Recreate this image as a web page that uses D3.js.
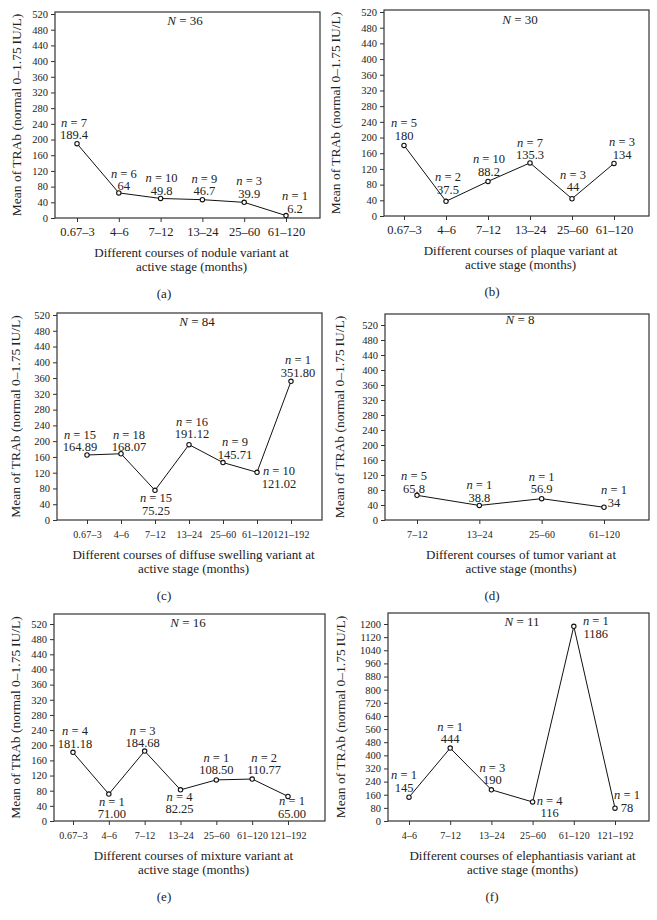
<!DOCTYPE html>
<html lang="en">
<head>
    <meta charset="UTF-8">
    <title>Mean of TRAb by course</title>
    <script src="https://d3js.org/d3.v7.min.js"></script>
    <style>
        body { margin: 0; background: #fff; }
        svg { display: block; font-family: "Liberation Serif", "DejaVu Serif", serif; }
        .box { fill: none; stroke: #333; stroke-width: 1.2; }
        .tick line { stroke: #333; }
        .tick text { fill: #222; font-family: "Liberation Serif", serif; }
        .lbl { fill: #222; font-size: 13px; text-anchor: middle; }
        .ann text { font-size: 12.5px; }
        .ylab { font-size: 13.5px; }
        .line { fill: none; stroke: #111; stroke-width: 1; }
        .dot { fill: #fff; stroke: #111; stroke-width: 1.1; }
    </style>
</head>
<body>
    <svg id="chart" width="657" height="920"></svg>

    <script>
        // Data
        const variants = ["nodule", "plaque", "diffuse swelling", "tumor", "mixture", "elephantiasis"];
        const panelLetters = ["a", "b", "c", "d", "e", "f"];
        const totalN = [36, 30, 84, 8, 16, 11];

        const catsA = ["0.67–3", "4–6", "7–12", "13–24", "25–60", "61–120"];
        const meansA = [189.4, 64, 49.8, 46.7, 39.9, 6.2];
        const countsA = [7, 6, 10, 9, 3, 1];
        const textA = ["189.4", "64", "49.8", "46.7", "39.9", "6.2"];

        const catsB = ["0.67–3", "4–6", "7–12", "13–24", "25–60", "61–120"];
        const meansB = [180, 37.5, 88.2, 135.3, 44, 134];
        const countsB = [5, 2, 10, 7, 3, 3];
        const textB = ["180", "37.5", "88.2", "135.3", "44", "134"];

        const catsC = ["0.67–3", "4–6", "7–12", "13–24", "25–60", "61–120", "121–192"];
        const meansC = [164.89, 168.07, 75.25, 191.12, 145.71, 121.02, 351.80];
        const countsC = [15, 18, 15, 16, 9, 10, 1];
        const textC = ["164.89", "168.07", "75.25", "191.12", "145.71", "121.02", "351.80"];

        const catsD = ["7–12", "13–24", "25–60", "61–120"];
        const meansD = [65.8, 38.8, 56.9, 34];
        const countsD = [5, 1, 1, 1];
        const textD = ["65.8", "38.8", "56.9", "34"];

        const catsE = ["0.67–3", "4–6", "7–12", "13–24", "25–60", "61–120", "121–192"];
        const meansE = [181.18, 71.00, 184.68, 82.25, 108.50, 110.77, 65.00];
        const countsE = [4, 1, 3, 4, 1, 2, 1];
        const textE = ["181.18", "71.00", "184.68", "82.25", "108.50", "110.77", "65.00"];

        const catsF = ["4–6", "7–12", "13–24", "25–60", "61–120", "121–192"];
        const meansF = [145, 444, 190, 116, 1186, 78];
        const countsF = [1, 1, 3, 4, 1, 1];
        const textF = ["145", "444", "190", "116", "1186", "78"];

        const ticks520 = [0, 40, 80, 120, 160, 200, 240, 280, 320, 360, 400, 440, 480, 520];
        const ticks1200 = [0, 80, 160, 240, 320, 400, 480, 560, 640, 720, 800, 880, 960, 1040, 1120, 1200];

        const panelData = [
            { cats: catsA, means: meansA, counts: countsA, text: textA, ticks: ticks520 },
            { cats: catsB, means: meansB, counts: countsB, text: textB, ticks: ticks520 },
            { cats: catsC, means: meansC, counts: countsC, text: textC, ticks: ticks520 },
            { cats: catsD, means: meansD, counts: countsD, text: textD, ticks: ticks520 },
            { cats: catsE, means: meansE, counts: countsE, text: textE, ticks: ticks520 },
            { cats: catsF, means: meansF, counts: countsF, text: textF, ticks: ticks1200 }
        ];

        // Layout (pixels): plot box, first/last category x, top tick y, label offsets
        const layout = [
            { cx: 164, left: 55, right: 320, top: 12, bottom: 218, topTickY: 14, x0: 77, x1: 286,
              big: true, yLabX: 16, nX: 185, nDy: 13,
              off: [[-3, -9], [5, -7], [1, -8], [2, -9], [5, -9], [9, -7]] },
            { cx: 492, left: 384, right: 649, top: 10, bottom: 216, topTickY: 12, x0: 404, x1: 614,
              big: true, yLabX: 335, nX: 520, nDy: 14,
              off: [[0, -10], [2, -12], [1, -10], [0, -8], [1, -12], [8, -9]] },
            { cx: 164, left: 57, right: 322, top: 313, bottom: 520, topTickY: 315, x0: 87, x1: 291,
              big: false, yLabX: 15, nX: 197, nDy: 13,
              off: [[-7, -8], [8, -7], [1, 20], [3, -11], [12, -8], [22, 11], [7, -9]] },
            { cx: 492, left: 385, right: 649, top: 314, bottom: 520, topTickY: 325, x0: 417, x1: 604,
              big: false, yLabX: 339, nX: 520, nDy: 10,
              off: [[-3, -7], [0, -8], [0, -10], [10, -5]] },
            { cx: 164, left: 54, right: 325, top: 614, bottom: 821, topTickY: 624, x0: 73, x1: 288,
              big: false, yLabX: 15, nX: 188, nDy: 13,
              off: [[2, -9], [3, 20], [-2, -8], [-1, 19], [0, -10], [12, -9], [4, 17]] },
            { cx: 492, left: 388, right: 649, top: 613, bottom: 821, topTickY: 624, x0: 409, x1: 615,
              big: false, yLabX: 340, nX: 522, nDy: 13,
              off: [[-5, -10], [0, -9], [1, -10], [17, 11], [22, 7], [12, -1]] }
        ];

        const svg = d3.select("#chart");

        panelData.forEach((d, i) => {
            const L = layout[i];
            const g = svg.append("g");

            const x = d3.scalePoint()
                .domain(d.cats)
                .range([L.x0, L.x1]);

            const y = d3.scaleLinear()
                .domain([0, d.ticks[d.ticks.length - 1]])
                .range([L.bottom, L.topTickY]);

            // y axis
            const yAxis = g.append("g")
                .attr("transform", `translate(${L.left},0)`)
                .call(d3.axisLeft(y).tickValues(d.ticks).tickFormat(d3.format("d")).tickSize(4).tickPadding(3))
                .attr("font-family", null)
                .attr("font-size", null);
            yAxis.select(".domain").remove();
            yAxis.selectAll("text").style("font-size", "10.5px");

            // x axis
            const xAxis = g.append("g")
                .attr("transform", `translate(0,${L.bottom})`)
                .call(d3.axisBottom(x).tickSize(4).tickPadding(L.big ? 5 : 7))
                .attr("font-family", null)
                .attr("font-size", null);
            xAxis.select(".domain").remove();
            xAxis.selectAll("text")
                .style("font-size", L.big ? "12.5px" : "10px")
                .style("letter-spacing", L.big ? "0px" : "0.2px");

            // frame
            g.append("rect")
                .attr("class", "box")
                .attr("x", L.left)
                .attr("y", L.top)
                .attr("width", L.right - L.left)
                .attr("height", L.bottom - L.top);

            // y label
            const midY = (L.top + L.bottom) / 2;
            g.append("text")
                .attr("class", "lbl ylab")
                .attr("transform", `translate(${L.yLabX},${midY}) rotate(-90)`)
                .attr("dy", "0.35em")
                .text("Mean of TRAb (normal 0–1.75\u2009IU/L)");

            // x title + panel letter
            const midX = (L.left + L.right) / 2 + 4;
            g.append("text")
                .attr("class", "lbl")
                .attr("x", midX)
                .attr("y", L.bottom + 39)
                .text(`Different courses of ${variants[i]} variant at`);
            g.append("text")
                .attr("class", "lbl")
                .attr("x", midX)
                .attr("y", L.bottom + 53)
                .text("active stage (months)");
            g.append("text")
                .attr("class", "lbl")
                .attr("x", L.cx)
                .attr("y", L.bottom + 80)
                .text(`(${panelLetters[i]})`);

            // N = ...
            const nt = g.append("text")
                .attr("class", "lbl")
                .attr("x", L.nX)
                .attr("y", L.top + L.nDy);
            nt.append("tspan").style("font-style", "italic").text("N");
            nt.append("tspan").text(` = ${totalN[i]}`);

            // line + points
            const pts = d.cats.map((c, k) => ({ c: c, v: d.means[k], n: d.counts[k], t: d.text[k], o: L.off[k] }));

            g.append("path")
                .datum(pts)
                .attr("class", "line")
                .attr("d", d3.line().x(p => x(p.c)).y(p => y(p.v)));

            g.selectAll(".dot")
                .data(pts)
                .enter()
                .append("circle")
                .attr("class", "dot")
                .attr("cx", p => x(p.c))
                .attr("cy", p => y(p.v))
                .attr("r", 2.2);

            // annotations
            const ann = g.selectAll(".ann")
                .data(pts)
                .enter()
                .append("g")
                .attr("class", "ann")
                .attr("transform", p => `translate(${x(p.c) + p.o[0]},${y(p.v) + p.o[1]})`);

            ann.append("text")
                .attr("class", "lbl")
                .attr("dy", "0.35em")
                .text(p => p.t);

            const nl = ann.append("text")
                .attr("class", "lbl")
                .attr("y", -12.5)
                .attr("dy", "0.35em");
            nl.append("tspan").style("font-style", "italic").text("n");
            nl.append("tspan").text(p => ` = ${p.n}`);
        });
    </script>
</body>
</html>
